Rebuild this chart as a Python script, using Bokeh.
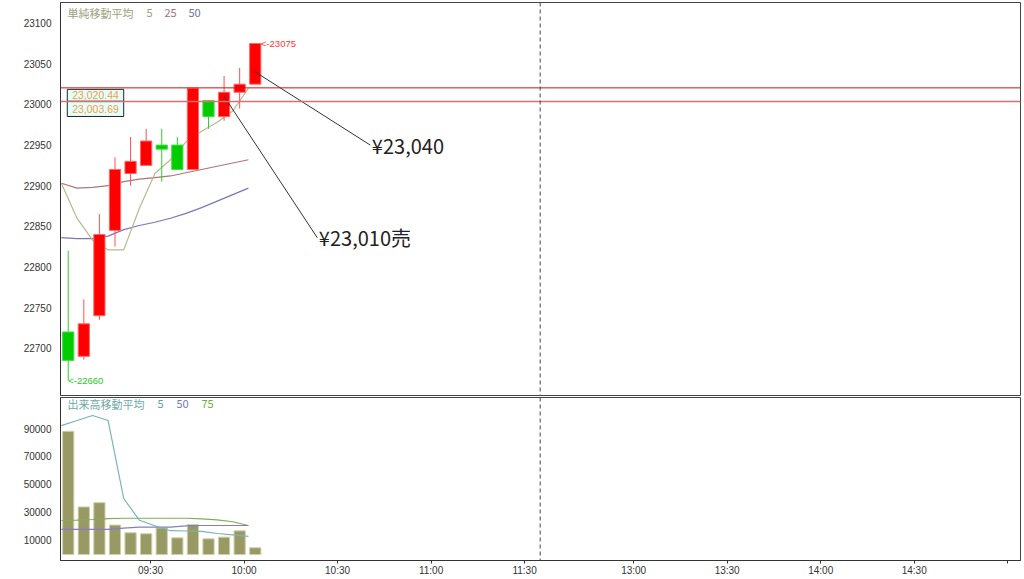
from bokeh.plotting import figure
from bokeh.models import Range1d, FixedTicker, Span, Label, ColumnDataSource
from bokeh.layouts import column
from bokeh.core.properties import value
from bokeh.embed import file_html
from bokeh.resources import INLINE

# ---------------- data ----------------
times = ["09:00", "09:05", "09:10", "09:15", "09:20", "09:25", "09:30",
         "09:35", "09:40", "09:45", "09:50", "09:55", "10:00"]
opens = [22720, 22690, 22740, 22845, 22915, 22925, 22950, 22950, 22920, 23005, 22985, 23015, 23025]
highs = [22820, 22760, 22865, 22935, 22960, 22970, 22970, 22960, 23020, 23005, 23035, 23045, 23075]
lows = [22660, 22686, 22735, 22825, 22900, 22925, 22905, 22920, 22920, 22970, 22980, 22995, 23025]
closes = [22685, 22730, 22840, 22920, 22930, 22955, 22945, 22920, 23020, 22985, 23015, 23025, 23075]

ma5 = [22903, 22860, 22833, 22821, 22821, 22872, 22915, 22932, 22954, 22967, 22978, 22992, 23020]
ma25 = [22903, 22897, 22898, 22900, 22905, 22908, 22910, 22912, 22916, 22920, 22924, 22928, 22932]
ma50 = [22836, 22835, 22835, 22838, 22846, 22851, 22855, 22860, 22866, 22873, 22881, 22889, 22897]

volumes = [88000, 34000, 37000, 21000, 15500, 14800, 19000, 11900, 21400, 11200, 12400, 16900, 4800]
vma5 = [92100, 95700, 99300, 95700, 40000, 24500, 20500, 17000, 16800, 16500, 15000, 14000, 12900]
vma50 = [17900, 17900, 17900, 18000, 18900, 19500, 19500, 19600, 20500, 20700, 20700, 20700, 20700]
vma75 = [24300, 24500, 25000, 25600, 25900, 25900, 25900, 25900, 25900, 25500, 24800, 23400, 20700]

price_lines = [23020.44, 23003.69]
price_line_labels = ["23,020.44", "23,003.69"]

price_ticks = [22700, 22750, 22800, 22850, 22900, 22950, 23000, 23050, 23100]
volume_ticks = [10000, 30000, 50000, 70000, 90000]
time_ticks = ["09:30", "10:00", "10:30", "11:00", "11:30", "13:00", "13:30", "14:00", "14:30", "15:00"]
time_tick_labels = ["09:30", "10:00", "10:30", "11:00", "11:30", "13:00", "13:30", "14:00", "14:30", ""]
session_break = "11:35"

# annotations: line from (candle, price) to the text
ann_texts = ["¥23,040", "¥23,010売"]
ann_candle = [12, 10]
ann_price = [23040, 23010]
ann_text_time = ["10:41", "10:24"]
ann_text_price = [22950, 22836]


def to_m(t):
    h, mm = map(int, t.split(":"))
    m = (h - 9) * 60 + mm
    if h * 60 + mm >= 12 * 60 + 30:
        m -= 55
    return m


PX_PER_PRICE = 0.8125   # vertical scale of the price panel (px per yen)

tm = [to_m(t) for t in times]
cx = [m + 3.6 for m in tm]       # candle centers
mx = [m + 1.4 for m in tm]       # moving-average points

up = [c >= o for o, c in zip(opens, closes)]
src = ColumnDataSource(dict(
    x=cx, o=opens, h=highs, l=lows, c=closes,
    top=[max(o, c) for o, c in zip(opens, closes)],
    bot=[min(o, c) for o, c in zip(opens, closes)],
    fill=["#ff0000" if u else "#00cc00" for u in up],
    edge=["#ff6666" if u else "#44dd44" for u in up],
    wick=["#ff5050" if u else "#33cc33" for u in up],
    vol=volumes,
))

FONT_AX = "Liberation Sans"
FONT_JP = "Noto Sans CJK JP"


def style_y(p, ticks):
    p.yaxis.ticker = FixedTicker(ticks=ticks)
    p.yaxis.minor_tick_line_color = None
    p.yaxis.major_tick_line_color = None
    p.yaxis.axis_line_color = "#333333"
    p.yaxis.major_label_text_font = FONT_AX
    p.yaxis.major_label_text_font_size = "10px"
    p.yaxis.major_label_text_color = "#333333"
    p.yaxis.major_label_standoff = 3


# ---------------- price panel ----------------
p1 = figure(width=1024, height=396, x_range=Range1d(1.12, 309.1),
            y_range=Range1d(22641.8, 23125.5), output_backend="svg",
            toolbar_location=None, min_border_left=60, min_border_right=4,
            min_border_top=2, min_border_bottom=1)
p1.xaxis.visible = False
p1.grid.visible = False
p1.outline_line_color = "#444444"
style_y(p1, price_ticks)

for pl, col, w in zip(price_lines, ["#cc1111", "#d87070"], [1, 1.6]):
    p1.add_layout(Span(location=pl, dimension="width", line_color=col, line_width=w))

p1.add_layout(Span(location=to_m(session_break), dimension="height",
                   line_color="#444444", line_dash="4 3", line_width=1))

p1.line(mx, ma25, line_color="#a87878", line_width=1.2)
p1.line(mx, ma50, line_color="#7878b8", line_width=1.2)
p1.line(mx, ma5, line_color="#b8b890", line_width=1.2)

p1.segment(x0="x", y0="h", x1="x", y1="l", source=src, line_color="wick", line_width=1)
p1.vbar(x="x", top="top", bottom="bot", width=3.6, source=src,
        fill_color="fill", line_color="edge", line_width=1)

# high / low markers
p1.text(x=[cx[0]], y=[min(lows)], text=["<-" + str(min(lows))], text_color="#22cc22",
        text_font=value(FONT_AX), text_font_size="9.5px", text_baseline="middle", text_align="left")
p1.text(x=[cx[-1] + 1.8], y=[max(highs)], text=["<-" + str(max(highs))], text_color="#ff3333",
        text_font=value(FONT_AX), text_font_size="9.5px", text_baseline="middle", text_align="left")

# annotation lines and texts
ax0 = [cx[i] for i in ann_candle]
ax1 = [to_m(t) - 0.5 for t in ann_text_time]
p1.segment(x0=ax0, y0=ann_price, x1=ax1, y1=ann_text_price, line_color="#333333", line_width=1)
p1.text(x=[to_m(t) for t in ann_text_time], y=ann_text_price, text=ann_texts,
        text_font=value(FONT_JP), text_font_size="20px", text_color="#222222",
        text_baseline="middle", text_align="left")

# price-line value boxes (stacked just under the lines, at the left edge)
box_left, box_right = 3.3, 21.4
b1_top = price_lines[0] - 1.5 / PX_PER_PRICE
b1_bot = price_lines[0] - 13.5 / PX_PER_PRICE
b2_top = b1_bot
b2_bot = price_lines[1] - 15.0 / PX_PER_PRICE
p1.quad(left=[box_left, box_left], right=[box_right, box_right],
        top=[b1_top, b2_top], bottom=[b1_bot, b2_bot],
        fill_color="#e2ffff", line_color="#222222", line_width=1)
p1.text(x=[(box_left + box_right) / 2] * 2, y=[(b1_top + b1_bot) / 2, (b2_top + b2_bot) / 2],
        text=price_line_labels, text_font=value(FONT_AX), text_font_size="10.5px",
        text_color="#ff9933", text_align="center", text_baseline="middle")

# legend
leg1 = [("単純移動平均", 7, "#a0a080"), ("5", 86, "#a0a070"), ("25", 104, "#a87070"), ("50", 128, "#7070b0")]
for t, x, c in leg1:
    p1.add_layout(Label(x=x, y=383, x_units="screen", y_units="screen", text=t,
                        text_font=FONT_JP, text_font_size="11px", text_color=c,
                        text_baseline="middle"))

# ---------------- volume panel ----------------
p2 = figure(width=1024, height=182, x_range=p1.x_range, y_range=Range1d(-4286, 112143),
            output_backend="svg", toolbar_location=None, min_border_left=60,
            min_border_right=4, min_border_top=1, min_border_bottom=18)
p2.grid.visible = False
p2.outline_line_color = "#444444"
style_y(p2, volume_ticks)

tick_pos = [to_m(t) for t in time_ticks]
p2.xaxis.ticker = FixedTicker(ticks=tick_pos)
p2.xaxis.major_label_overrides = {pos: lab for pos, lab in zip(tick_pos, time_tick_labels)}
p2.xaxis.minor_tick_line_color = None
p2.xaxis.major_tick_out = 3
p2.xaxis.major_tick_in = 0
p2.xaxis.major_tick_line_color = "#333333"
p2.xaxis.axis_line_color = "#333333"
p2.xaxis.major_label_text_font = FONT_AX
p2.xaxis.major_label_text_font_size = "10px"
p2.xaxis.major_label_text_color = "#333333"
p2.xaxis.major_label_standoff = 1

p2.add_layout(Span(location=to_m(session_break), dimension="height",
                   line_color="#444444", line_dash="4 3", line_width=1))

p2.vbar(x="x", top="vol", bottom=0, width=3.6, source=src,
        fill_color="#999966", line_color="#cfcfa8", line_width=1)
p2.line(mx, vma75, line_color="#80b050", line_width=1.2)
p2.line(mx, vma50, line_color="#8080c0", line_width=1.2)
p2.line(mx, vma5, line_color="#78b4b4", line_width=1.2)

leg2 = [("出来高移動平均", 7, "#70a8a8"), ("5", 97, "#60a0a0"), ("50", 116, "#7878b8"), ("75", 141, "#78a848")]
for t, x, c in leg2:
    p2.add_layout(Label(x=x, y=157, x_units="screen", y_units="screen", text=t,
                        text_font=FONT_JP, text_font_size="11px", text_color=c,
                        text_baseline="middle"))

layout = column(p1, p2, spacing=0)
open("out.html", "w").write(file_html(layout, INLINE))
